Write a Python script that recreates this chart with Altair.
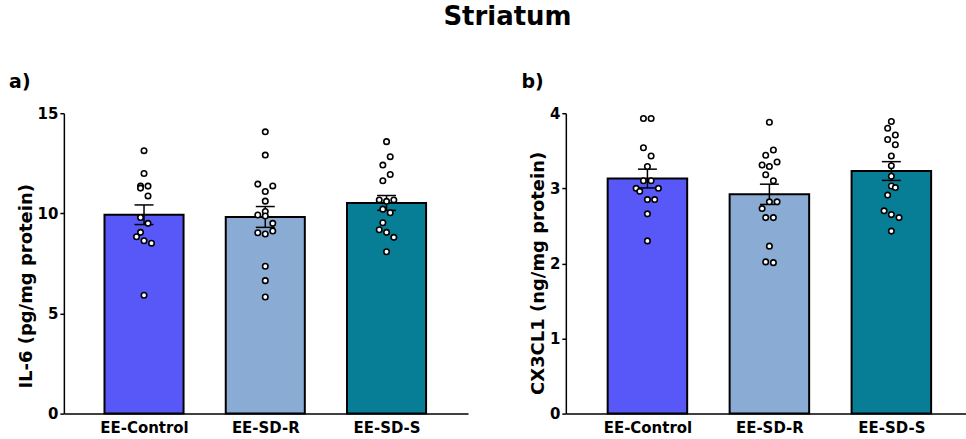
import altair as alt
import pandas as pd

FONT = "DejaVu Sans"

groups = ["EE-Control", "EE-SD-R", "EE-SD-S"]
colors = ["#5858F8", "#8AABD3", "#087E96"]

# Panel a: IL-6 (pg/mg protein)
il6_means = [9.93, 9.82, 10.52]
il6_sems = [0.49, 0.52, 0.37]
il6_ctrl = [13.13, 11.99, 11.36, 11.36, 11.26, 10.87, 9.79, 9.50, 9.05, 8.83, 8.63, 8.51, 5.91]
il6_ctrl_jit = [0, 0, -3.5, 4, -3.5, 4, -3.5, 4, -3.5, -7.5, 0, 7.5, 0]
il6_sdr = [14.07, 12.91, 11.46, 11.37, 11.09, 10.61, 10.09, 9.92, 9.87, 9.50, 9.12, 9.03, 8.97, 7.36, 6.64, 5.82]
il6_sdr_jit = [0, 0, -7.5, 7.5, 0, 0, 0, -7.5, 0, 7.5, 7.5, -7.5, 0, 0, 0, 0]
il6_sds = [13.58, 12.83, 12.41, 11.94, 11.63, 10.67, 10.60, 10.67, 10.21, 10.03, 9.53, 9.18, 9.05, 8.80, 8.08]
il6_sds_jit = [0, 3.7, -3.7, 3.7, -3.7, -7.3, 0, 7.3, -3.7, 3.7, -3.7, -7.3, 0, 7.3, 0]

# Panel b: CX3CL1 (ng/mg protein)
cx_means = [3.13, 2.92, 3.23]
cx_sems = [0.125, 0.135, 0.125]
cx_ctrl = [3.93, 3.93, 3.54, 3.43, 3.29, 3.10, 3.10, 3.00, 3.00, 2.96, 2.85, 2.85, 2.66, 2.30]
cx_ctrl_jit = [-4, 3.7, -4, 3.7, 0, -4, 3.7, -11.3, 11, -7.7, 0, 7.3, 0, 0]
cx_sdr = [3.88, 3.51, 3.44, 3.35, 3.31, 3.29, 3.18, 3.10, 2.82, 2.82, 2.73, 2.61, 2.61, 2.23, 2.02, 2.01]
cx_sdr_jit = [0, 4, -3.7, 7.7, -7.3, 0, -3.7, 4, 0, 7.7, -7.3, -3.7, 4, 0, -3.7, 4]
cx_sds = [3.89, 3.80, 3.71, 3.65, 3.58, 3.43, 3.30, 3.16, 3.03, 3.01, 2.91, 2.70, 2.65, 2.61, 2.43]
cx_sds_jit = [0, -3.7, 4, -3.7, 4, 0, 0, 0, 0, 4, -3.7, -7.3, 0, 7.7, 0]

BAR_HALF = 0.326  # half bar width, in category units


def summary_df(means, sems):
    return pd.DataFrame({
        "group": groups,
        "pos": list(range(len(groups))),
        "mean": means,
        "lo": [m - s for m, s in zip(means, sems)],
        "hi": [m + s for m, s in zip(means, sems)],
    })


def points_df(series, jitters):
    rows = []
    for i, (g, vals, jits) in enumerate(zip(groups, series, jitters)):
        for v, j in zip(vals, jits):
            rows.append({"group": g, "pos": i, "val": v, "jit": j})
    return pd.DataFrame(rows)


def panel(means, sems, series, jitters, ymax, yvals, ytitle, title_y, label, width, xdom):
    sdf = summary_df(means, sems)
    pdf = points_df(series, jitters)
    px_per_unit = width / (xdom[1] - xdom[0])
    xscale = alt.Scale(domain=xdom, nice=False, zero=False)
    label_expr = "[" + ",".join("'%s'" % g for g in groups) + "][datum.value]"
    xaxis = alt.Axis(title=None, values=[0, 1, 2], labelExpr=label_expr, labelAngle=0,
                     ticks=False, grid=False, domainColor="black", domainWidth=1.5,
                     labelFont=FONT, labelFontSize=15, labelFontWeight="bold",
                     labelColor="black", labelPadding=7, labelFlush=False,
                     labelOverlap=False)
    yscale = alt.Scale(domain=[0, ymax], nice=False, padding=0)
    yaxis = alt.Axis(title=ytitle, values=yvals, format="d", grid=False, domainColor="black",
                     domainWidth=1.5, tickColor="black", tickWidth=1.5, tickSize=4,
                     labelFont=FONT, labelFontSize=15, labelFontWeight="bold",
                     labelColor="black", labelPadding=2, titleFont=FONT,
                     titleFontSize=18, titleFontWeight="bold", titleColor="black",
                     titlePadding=2, titleY=title_y)
    base = alt.Chart(sdf).transform_calculate(
        x0="datum.pos - %f" % BAR_HALF, x1="datum.pos + %f" % BAR_HALF)
    bars = base.mark_bar(stroke="black", strokeWidth=2, opacity=1).encode(
        x=alt.X("x0:Q", scale=xscale, axis=xaxis),
        x2="x1:Q",
        y=alt.Y("mean:Q", scale=yscale, axis=yaxis),
        y2=alt.datum(0),
        color=alt.Color("group:N", scale=alt.Scale(domain=groups, range=colors), legend=None),
    )
    rule = base.mark_rule(color="black", strokeWidth=1.5).encode(
        x="pos:Q", y="lo:Q", y2="hi:Q")
    cap_hi = base.mark_tick(orient="horizontal", size=19, thickness=1.5, color="black", opacity=1).encode(
        x="pos:Q", y="hi:Q")
    cap_lo = base.mark_tick(orient="horizontal", size=19, thickness=1.5, color="black", opacity=1).encode(
        x="pos:Q", y="lo:Q")
    pts = alt.Chart(pdf).transform_calculate(
        px="datum.pos + datum.jit / %f" % px_per_unit
    ).mark_circle(fill="white", stroke="black", strokeWidth=1.6, size=30, opacity=1).encode(
        x="px:Q",
        y="val:Q",
    )
    return alt.layer(bars, rule, cap_hi, cap_lo, pts).properties(
        width=width, height=301,
        title=alt.TitleParams(label, anchor="start", font=FONT, fontSize=19,
                              fontWeight="bold", color="black", dx=-8, offset=14),
    )


pa = panel(il6_means, il6_sems, [il6_ctrl, il6_sdr, il6_sds],
           [il6_ctrl_jit, il6_sdr_jit, il6_sds_jit], 15, [0, 5, 10, 15],
           "IL-6 (pg/mg protein)", 173, "a)", 405, [-0.661, 2.672])
pb = panel(cx_means, cx_sems, [cx_ctrl, cx_sdr, cx_sds],
           [cx_ctrl_jit, cx_sdr_jit, cx_sds_jit], 4, [0, 1, 2, 3, 4],
           "CX3CL1 (ng/mg protein)", 160, "b)", 401, [-0.669, 2.612])

chart = alt.hconcat(pa, pb, spacing=53).properties(
    title=alt.TitleParams("Striatum", anchor="middle", font=FONT, fontSize=26,
                          fontWeight="bold", color="black", offset=43, dx=20),
    padding={"left": 9, "top": 4, "right": 0, "bottom": 0},
).configure_view(stroke=None)

chart.save("out.html", embed_options={"renderer": "svg", "actions": False})
